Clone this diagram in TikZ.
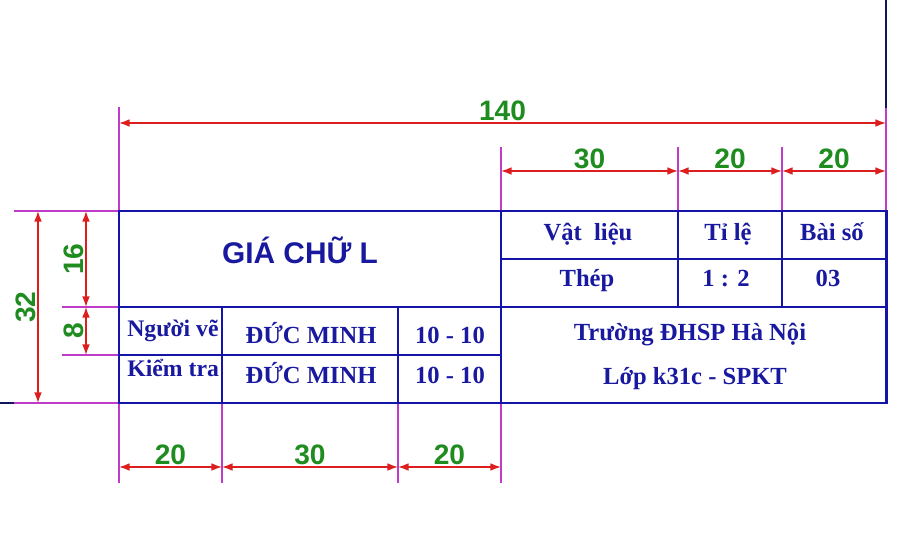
\documentclass[tikz,border=0pt]{standalone}
\usepackage{fontspec}
\setmainfont{Liberation Serif}
\newfontfamily\arialfont{Liberation Sans}
\usetikzlibrary{arrows.meta}
\definecolor{khung}{RGB}{20,20,170}
\definecolor{chuxanh}{RGB}{25,25,160}
\definecolor{dimred}{RGB}{220,30,30}
\definecolor{dimgreen}{RGB}{30,140,30}
\definecolor{extpink}{RGB}{190,60,200}
\definecolor{navy}{RGB}{20,20,90}
\tikzset{frame/.style={draw=khung, line width=1.7pt}}
\tikzset{thinline/.style={draw=khung, line width=0.85pt}}
\tikzset{extline/.style={draw=extpink, line width=0.6pt}}
\tikzset{dimline/.style={draw=dimred, line width=0.8pt, {Latex[length=6pt,width=4.4pt]}-{Latex[length=6pt,width=4.4pt]}}}
\tikzset{dimtext/.style={text=dimgreen, font=\arialfont\fontsize{16}{18}\selectfont\bfseries, inner sep=1pt}}
\tikzset{celltext/.style={text=chuxanh, font=\fontsize{14}{16}\selectfont\bfseries, inner sep=0pt, anchor=base}}
\tikzset{lefttext/.style={celltext, font=\fontsize{13.5}{16}\selectfont\bfseries, anchor=base west}}
\tikzset{titletext/.style={text=chuxanh, font=\arialfont\fontsize{17}{19}\selectfont\bfseries, inner sep=0pt, anchor=base}}

\begin{document}
\begin{tikzpicture}[x=0.02cm, y=-0.02cm]
    \useasboundingbox (0,0) rectangle (910,551);
    % grid of the title block and dimension levels
    \foreach \c/\x in {k/38, j/86, a/119, b/222, c/398, d/501, e/678, f/782, g/886} {
        \foreach \r/\y in {u/123, v/171, 0/211, 1/259, 2/307, 3/355, 4/403, w/467} {
            \coordinate (\c\r) at (\x,\y);
        }
    }
    % extension lines
    \draw[extline] (au) ++(0,-16) -- (a0);
    \draw[extline] (gu) ++(0,-15) -- (g0);
    \foreach \c in {d, e, f} {
        \draw[extline] (\c v) ++(0,-24) -- (\c0);
    }
    \foreach \c in {a, b, c, d} {
        \draw[extline] (\c4) -- ++(0,80);
    }
    \draw[extline] (a0) -- ++(-105,0);
    \draw[extline] (a2) -- ++(-57,0);
    \draw[extline] (a3) -- ++(-57,0);
    \draw[extline] (a4) -- ++(-105,0);
    \draw[navy, line width=0.6pt] (gu) ++(0,-15) -- ++(0,-108);
    \draw[navy, line width=0.6pt] (a4) ++(-105,0) -- ++(-14,0);
    % title block
    \draw[thinline] (d1) -- (g1);
    \draw[thinline] (e0) -- (e2);
    \draw[thinline] (f0) -- (f2);
    \draw[thinline] (a3) -- (d3);
    \draw[thinline] (b2) -- (b4);
    \draw[thinline] (c2) -- (c4);
    \draw[frame] (a0) rectangle (g4);
    \draw[frame] (a2) -- (g2);
    \draw[frame] (d0) -- (d4);
    % dimensions
    \draw[dimline] (au) -- (gu) node[dimtext, midway, above] (d140) {140};
    \draw[dimline] (dv) -- (ev) node[dimtext, midway, above] (d30a) {30};
    \draw[dimline] (ev) -- (fv) node[dimtext, midway, above] (d20a) {20};
    \draw[dimline] (fv) -- (gv) node[dimtext, midway, above] (d20b) {20};
    \draw[dimline] (aw) -- (bw) node[dimtext, midway, above] (d20c) {20};
    \draw[dimline] (bw) -- (cw) node[dimtext, midway, above] (d30b) {30};
    \draw[dimline] (cw) -- (dw) node[dimtext, midway, above] (d20d) {20};
    \draw[dimline] (k4) -- (k0) node[dimtext, midway, above, sloped] (d32) {32};
    \draw[dimline] (j2) -- (j0) node[dimtext, midway, above, sloped] (d16) {16};
    \draw[dimline] (j3) -- (j2) node[dimtext, midway, above, sloped] (d8) {8};
    % texts
    \node[titletext] (tieude) at (300,263) {GIÁ CHỮ L};
    \node[celltext] (vatlieu) at (588,240) {Vật\ \ liệu};
    \node[celltext] (tile) at (728,240) {Tỉ lệ};
    \node[celltext] (baiso) at (832,240) {Bài số};
    \node[celltext] (thep) at (587,286) {Thép};
    \node[celltext] (tyle) at (726,286) {1 : 2};
    \node[celltext] (so) at (828,286) {03};
    \node[lefttext] (nguoive) at (127,336) {Người vẽ};
    \node[lefttext] (kiemtra) at (127,376) {Kiểm tra};
    \node[celltext] (ten1) at (311,343) {ĐỨC MINH};
    \node[celltext] (ten2) at (311,383) {ĐỨC MINH};
    \node[celltext] (ngay1) at (450,343) {10 - 10};
    \node[celltext] (ngay2) at (450,383) {10 - 10};
    \node[celltext] (truong) at (690,340) {Trường\ ĐHSP Hà Nội};
    \node[celltext] (lop) at (695,384) {Lớp k31c - SPKT};
\end{tikzpicture}
\end{document}
